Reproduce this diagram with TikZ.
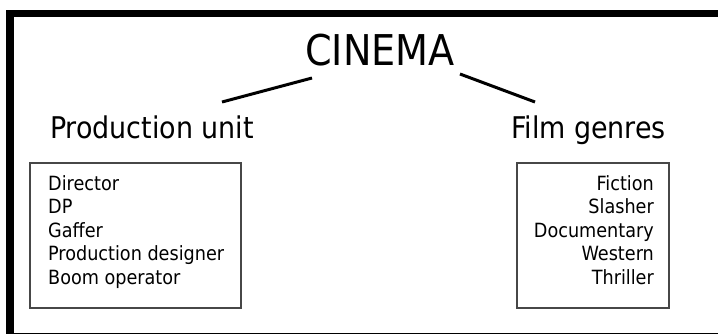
\documentclass[tikz,border=0pt]{standalone}
\usepackage{fontspec}
\setmainfont{DejaVu Sans Condensed}
\begin{document}
\begin{tikzpicture}[x=1pt,y=-1pt,
  title/.style={inner sep=0pt,font=\fontsize{42.4}{50}\selectfont},
  head/.style={inner sep=0pt,font=\fontsize{29.9}{36}\selectfont},
  item/.style={inner sep=0pt,font=\fontsize{19.6}{23.4}\selectfont},
  listbox/.style={draw=black!72,line width=1.3pt},
  link/.style={line width=3pt}]
\useasboundingbox (0,0) rectangle (718,333);
\clip (0,0) rectangle (718,333);
\draw[line width=7.5pt] (10,13.7) rectangle (724,337);
% title and headings
\node[title,anchor=base] (cinema) at (380,65) {CINEMA};
\node[head,anchor=base west] (prod) at (50,138) {Production unit};
\node[head,anchor=base west] (film) at (511,138) {Film genres};
% connectors
\coordinate (cl) at (312,78);
\coordinate (pl) at (222,102);
\coordinate (cr) at (460,74);
\coordinate (fr) at (535,102);
\draw[link] (cl) -- (pl);
\draw[link] (cr) -- (fr);
% boxes
\draw[listbox] (30,163) rectangle (241,308);
\draw[listbox] (517,163) rectangle (669,308);
% left list
\node[item,anchor=base west] (l1) at (48,190.5) {Director};
\node[item,anchor=base west] (l2) at (48,213.9) {DP};
\node[item,anchor=base west] (l3) at (48,237.3) {Gaffer};
\node[item,anchor=base west] (l4) at (48,260.7) {Production designer};
\node[item,anchor=base west] (l5) at (48,284.1) {Boom operator};
% right list
\node[item,anchor=base east] (r1) at (654,190.5) {Fiction};
\node[item,anchor=base east] (r2) at (654,213.9) {Slasher};
\node[item,anchor=base east] (r3) at (654,237.3) {Documentary};
\node[item,anchor=base east] (r4) at (654,260.7) {Western};
\node[item,anchor=base east] (r5) at (654,284.1) {Thriller};
\end{tikzpicture}
\end{document}
